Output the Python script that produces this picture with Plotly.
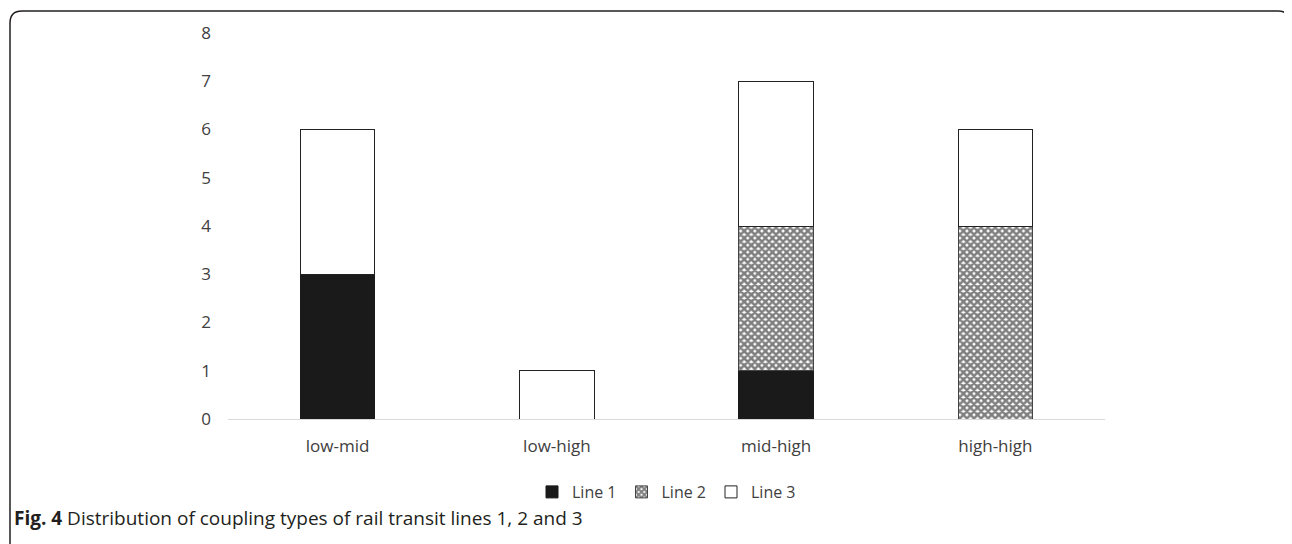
import plotly.graph_objects as go

categories = ["low-mid", "low-high", "mid-high", "high-high"]
line1 = [3, 0, 1, 0]
line2 = [0, 0, 3, 4]
line3 = [3, 1, 3, 2]
y_ticks = [0, 1, 2, 3, 4, 5, 6, 7, 8]
caption_bold = "Fig. 4"
caption_text = " Distribution of coupling types of rail transit lines 1, 2 and 3"

OFF = 8  # browser body margin
W, H = 1292 - OFF, 544 - OFF
L, R, T, B = 228 - OFF, 1105 - OFF, 33 - OFF, 419 - OFF

def px(x):
    return (x - OFF - L) / (R - L)

def py(y):
    return (B - (y - OFF)) / (B - T)

fig = go.Figure()
fig.add_trace(go.Bar(name="Line 1", x=categories, y=line1,
                     marker=dict(color="#1a1a1a", line=dict(color="#1a1a1a", width=1))))
fig.add_trace(go.Bar(name="Line 2", x=categories, y=line2,
                     marker=dict(color="white", line=dict(color="#444444", width=1),
                                 pattern=dict(shape="x", fgcolor="#000000", bgcolor="white",
                                              size=5, solidity=0.75))))
fig.add_trace(go.Bar(name="Line 3", x=categories, y=line3,
                     marker=dict(color="white", line=dict(color="#222222", width=1))))

fig.update_layout(
    barmode="stack",
    bargap=0.66,
    width=W, height=H,
    margin=dict(l=L, r=W - R, t=T, b=H - B),
    plot_bgcolor="white", paper_bgcolor="white",
    font=dict(family="Open Sans, sans-serif", size=17, color="#404040"),
    showlegend=True,
    legend=dict(orientation="h", x=0.5, xanchor="center", y=py(492), yanchor="middle",
                font=dict(size=16, color="#404040"), traceorder="normal",
                itemwidth=30, tracegroupgap=0),
    xaxis=dict(showgrid=False, showline=True, linecolor="#d9d9d9", linewidth=1,
               ticks="", ticklabelstandoff=12, tickfont=dict(size=17, color="#404040")),
    yaxis=dict(range=[0, 8], tickvals=y_ticks, showgrid=False, zeroline=False,
               showline=False, ticks="", ticklabelstandoff=16,
               tickfont=dict(size=17, color="#404040")),
)

r = 12
path = (f"M {px(10)},{py(560)} L {px(10)},{py(11 + r)} "
        f"Q {px(10)},{py(11)} {px(10 + r)},{py(11)} "
        f"L {px(1290 - r)},{py(11)} Q {px(1290)},{py(11)} {px(1290)},{py(11 + r)}")
fig.add_shape(type="path", path=path, xref="paper", yref="paper",
              line=dict(color="#231f20", width=1.5))

fig.add_annotation(x=px(12), y=py(518), xref="paper", yref="paper",
                   xanchor="left", yanchor="middle", showarrow=False,
                   text=f"<b>{caption_bold}</b>{caption_text}",
                   font=dict(family="Open Sans, sans-serif", size=19, color="#231f20"))

fig.write_html("out.html")
